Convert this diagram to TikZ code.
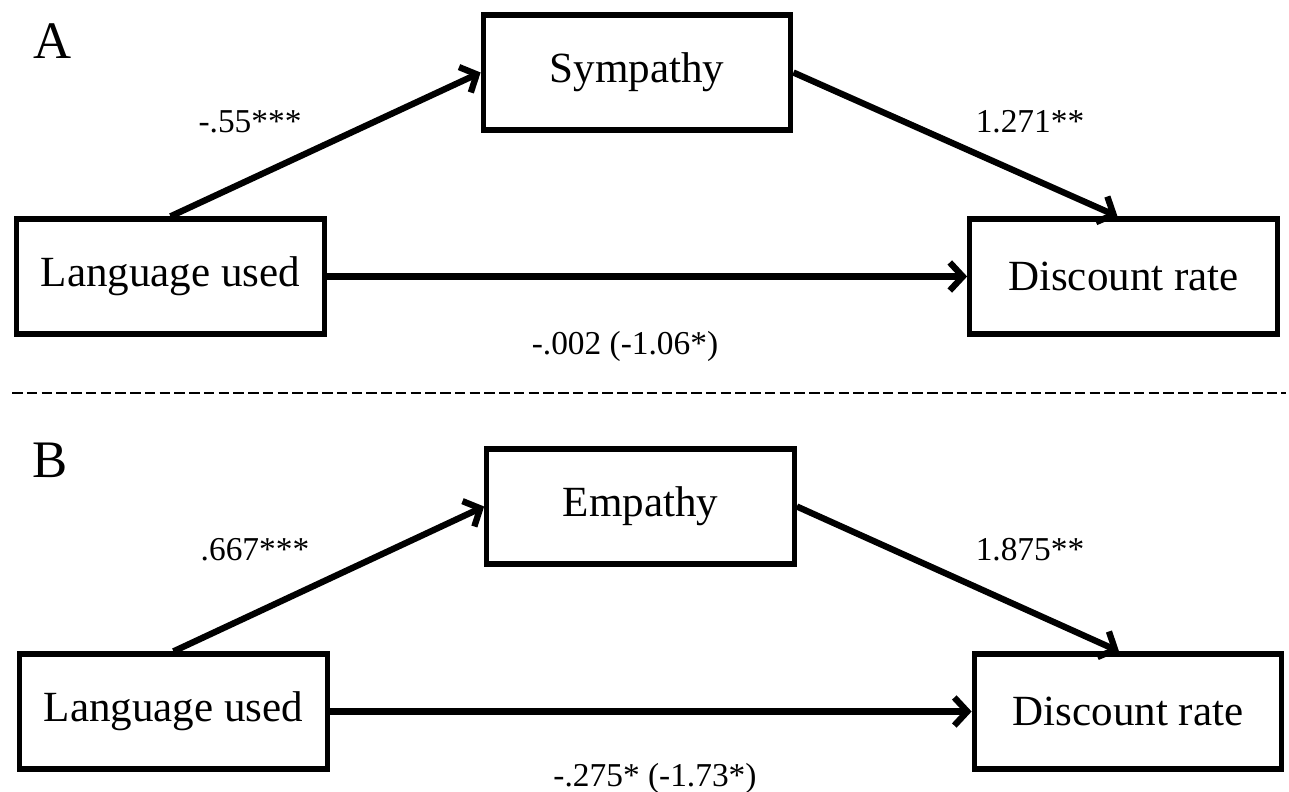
\documentclass[tikz,border=0pt]{standalone}
\usepackage{fontspec}
\setmainfont{Liberation Serif}
\usetikzlibrary{arrows.meta}

\begin{document}
\begin{tikzpicture}[var/.style={draw, line width=3pt, align=center, font=\fontsize{24.5}{29}\selectfont, minimum width=6.15cm, minimum height=2.3cm},
    coef/.style={font=\fontsize{19}{23}\selectfont, inner sep=0pt},
    panel/.style={font=\fontsize{30}{36}\selectfont, inner sep=0pt},
    eff/.style={-{Straight Barb[length=2.6mm, width=5.6mm]}, line width=3.6pt}]
    \useasboundingbox (0,0) rectangle (25.78,-15.82);
    % panel A: sympathy
    \node[panel] (labA) at (1.05,-0.82) {A};
    \node[var] (symp) at (12.74,-1.45) {Sympathy};
    \node[var] (langA) at (3.41,-5.53) {Language used};
    \node[var] (discA) at (22.47,-5.53) {Discount rate};
    \draw[eff] (langA.north) -- (symp.west);
    \draw[eff] (symp.east) -- ([xshift=-0.12cm]discA.north);
    \draw[eff] (langA) -- (discA);
    \node[coef] (aA) at (5.0,-2.44) {-.55***};
    \node[coef] (bA) at (20.6,-2.44) {1.271**};
    \node[coef] (cA) at (12.5,-6.92) {-.002 (-1.06*)};
    % separator
    \draw[line width=1.4pt, dash pattern=on 6pt off 2.4pt] (0.24,-7.86) -- (25.72,-7.86);
    % panel B: empathy
    \node[panel] (labB) at (1.0,-9.2) {B};
    \node[var] (emp) at (12.81,-10.13) {Empathy};
    \node[var] (langB) at (3.47,-14.23) {Language used};
    \node[var] (discB) at (22.56,-14.23) {Discount rate};
    \draw[eff] (langB.north) -- (emp.west);
    \draw[eff] (emp.east) -- ([xshift=-0.18cm]discB.north);
    \draw[eff] (langB) -- (discB);
    \node[coef] (aB) at (5.1,-11.0) {.667***};
    \node[coef] (bB) at (20.6,-11.0) {1.875**};
    \node[coef] (cB) at (13.1,-15.56) {-.275* (-1.73*)};
  \end{tikzpicture}
\end{document}
